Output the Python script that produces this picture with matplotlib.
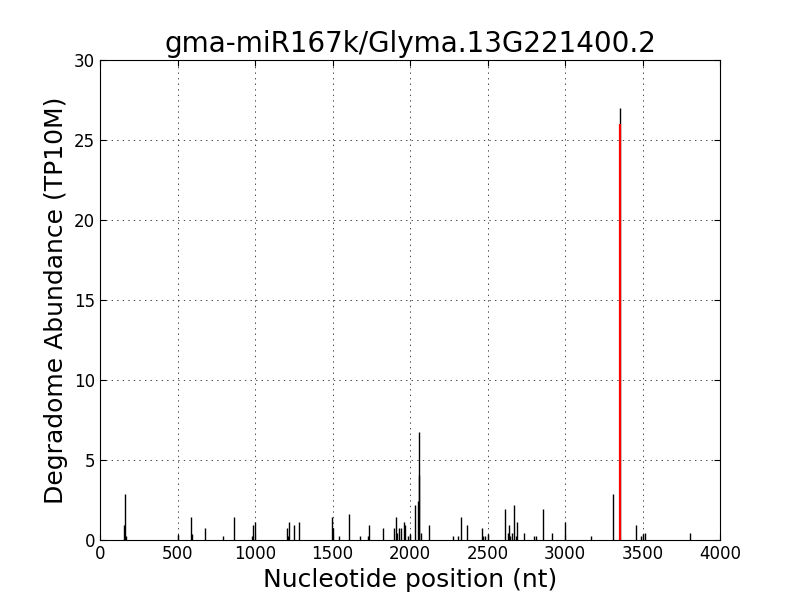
import matplotlib
matplotlib.use("Agg")
import matplotlib.pyplot as plt

# degradome peaks: position (nt) and abundance (TP10M)
positions = [158, 163, 166, 505, 589, 592, 680, 796, 865, 983, 989, 1002,
             1209, 1215, 1222, 1254, 1282, 1499, 1505, 1544, 1609, 1680,
             1731, 1738, 1828, 1899, 1912, 1918, 1931, 1944, 1961, 1970,
             1989, 2002, 2035, 2050, 2055, 2058, 2069, 2120, 2280, 2312,
             2331, 2366, 2467, 2473, 2486, 2503, 2615, 2634, 2641, 2647,
             2660, 2673, 2686, 2692, 2738, 2802, 2815, 2860, 2918, 3002,
             3170, 3308, 3355, 3460, 3492, 3505, 3518, 3808]
abundance = [0.92, 2.86, 0.25, 0.3, 1.42, 0.4, 0.73, 0.23, 1.42, 0.25, 0.92, 1.15,
             0.73, 0.25, 1.15, 0.92, 1.15, 1.42, 0.73, 0.23, 1.65, 0.23,
             0.23, 0.92, 0.73, 0.73, 1.42, 0.42, 0.73, 0.73, 1.15, 0.92,
             0.23, 0.35, 2.17, 2.44, 4.06, 6.73, 0.42, 0.92, 0.23, 0.23,
             1.42, 0.92, 0.73, 0.25, 0.23, 0.35, 1.92, 0.42, 0.92, 0.25,
             0.42, 2.17, 0.25, 1.15, 0.42, 0.23, 0.23, 1.92, 0.42, 1.15,
             0.23, 2.86, 27.0, 0.92, 0.23, 0.35, 0.42, 0.42]

# cleavage site
site_pos = 3355
site_val = 26.0

fig = plt.figure(figsize=(8, 6), dpi=100)
ax = fig.add_axes([0.125, 0.1, 0.775, 0.8])
ax.vlines(positions, 0, abundance, colors="black", lw=1)
ax.vlines([site_pos], 0, [site_val], colors="red", lw=1.6)

ax.set_xlim(0, 4000)
ax.set_ylim(0, 30)
ax.set_xticks(range(0, 4001, 500))
ax.set_yticks(range(0, 31, 5))
ax.grid(True, color="black", linestyle=(0, (2, 6)), lw=0.5)
ax.tick_params(direction="in", top=True, right=True, labelsize=12, length=4)
ax.set_title("gma-miR167k/Glyma.13G221400.2", fontsize=20)
ax.set_xlabel("Nucleotide position (nt)", fontsize=18)
ax.set_ylabel("Degradome Abundance (TP10M)", fontsize=18)

fig.savefig("out.png", dpi=100)
